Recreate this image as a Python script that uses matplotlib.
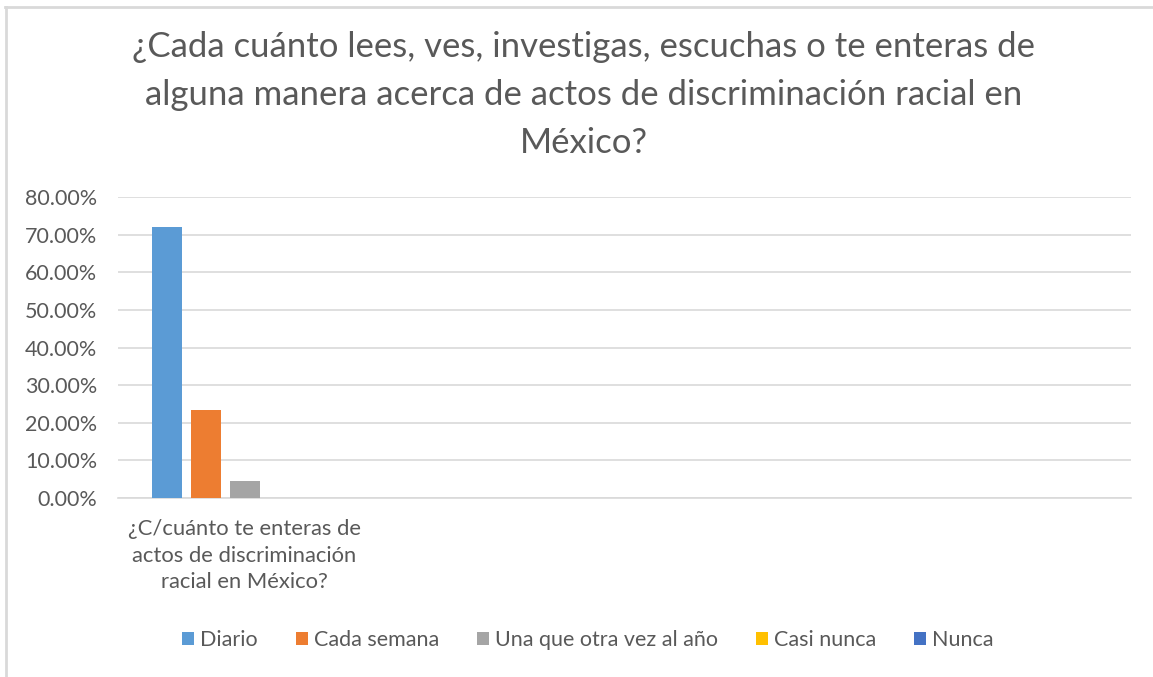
import numpy as np
import matplotlib
matplotlib.use("Agg")
import matplotlib.pyplot as plt
from matplotlib.lines import Line2D
from matplotlib.ticker import FuncFormatter, MultipleLocator

plt.rcParams['font.family'] = ['Lato', 'DejaVu Sans']

# data
categories = ["¿C/cuánto te enteras de\nactos de discriminación\nracial en México?", "", "", ""]
series = ["Diario", "Cada semana", "Una que otra vez al año", "Casi nunca", "Nunca"]
values = {
    "Diario":                  [0.72, 0, 0, 0],
    "Cada semana":             [0.235, 0, 0, 0],
    "Una que otra vez al año": [0.045, 0, 0, 0],
    "Casi nunca":              [0.0, 0, 0, 0],
    "Nunca":                   [0.0, 0, 0, 0],
}
colors = ["#5B9BD5", "#ED7D31", "#A5A5A5", "#FFC000", "#4472C4"]

W, H = 1153, 677
fig = plt.figure(figsize=(W / 100, H / 100), dpi=100)
ax = fig.add_axes([118 / W, 1 - 498 / H, (1131 - 118) / W, (498 - 197) / H])

text_col = "#595959"
x = np.arange(len(categories))
pitch = 0.154
width = 0.119
for i, name in enumerate(series):
    off = (i - 2) * pitch
    ax.bar(x + off, values[name], width, color=colors[i], label=name, zorder=3)

ax.set_xlim(-0.5, len(categories) - 0.5)
ax.set_ylim(0, 0.8)
ax.yaxis.set_major_locator(MultipleLocator(0.1))
ax.yaxis.set_major_formatter(FuncFormatter(lambda v, p: f"{v * 100:.2f}%"))
ax.grid(axis='y', color="#D9D9D9", lw=1.2, zorder=0)
for s in ['top', 'right', 'left']:
    ax.spines[s].set_visible(False)
ax.spines['bottom'].set_color("#D9D9D9")
ax.spines['bottom'].set_linewidth(1.2)
ax.set_xticks(x)
ax.set_xticklabels(categories, fontsize=15.8, color=text_col, linespacing=1.42)
ax.tick_params(axis='x', length=0, pad=15)
ax.tick_params(axis='y', length=0, labelsize=15.5, labelcolor=text_col, pad=15)

fig.text(0.506, 1 - 31 / H, "¿Cada cuánto lees, ves, investigas, escuchas o te enteras de\n"
         "alguna manera acerca de actos de discriminación racial en\nMéxico?",
         ha='center', va='top', fontsize=25, color=text_col, linespacing=1.62)

leg = fig.legend(loc='center', bbox_to_anchor=(0.51, 1 - 640 / H), ncol=5, frameon=False,
                 fontsize=15.5, handlelength=0.55, handleheight=0.55, handletextpad=0.3,
                 columnspacing=1.75, labelcolor=text_col)

# screenshot frame (top and left edges)
fig.add_artist(Line2D([5 / W, 1], [1 - 7 / H, 1 - 7 / H], color="#D9D9D9", lw=2))
fig.add_artist(Line2D([6 / W, 6 / W], [0, 1 - 7 / H], color="#D9D9D9", lw=2))

fig.savefig("out.png", dpi=100)
